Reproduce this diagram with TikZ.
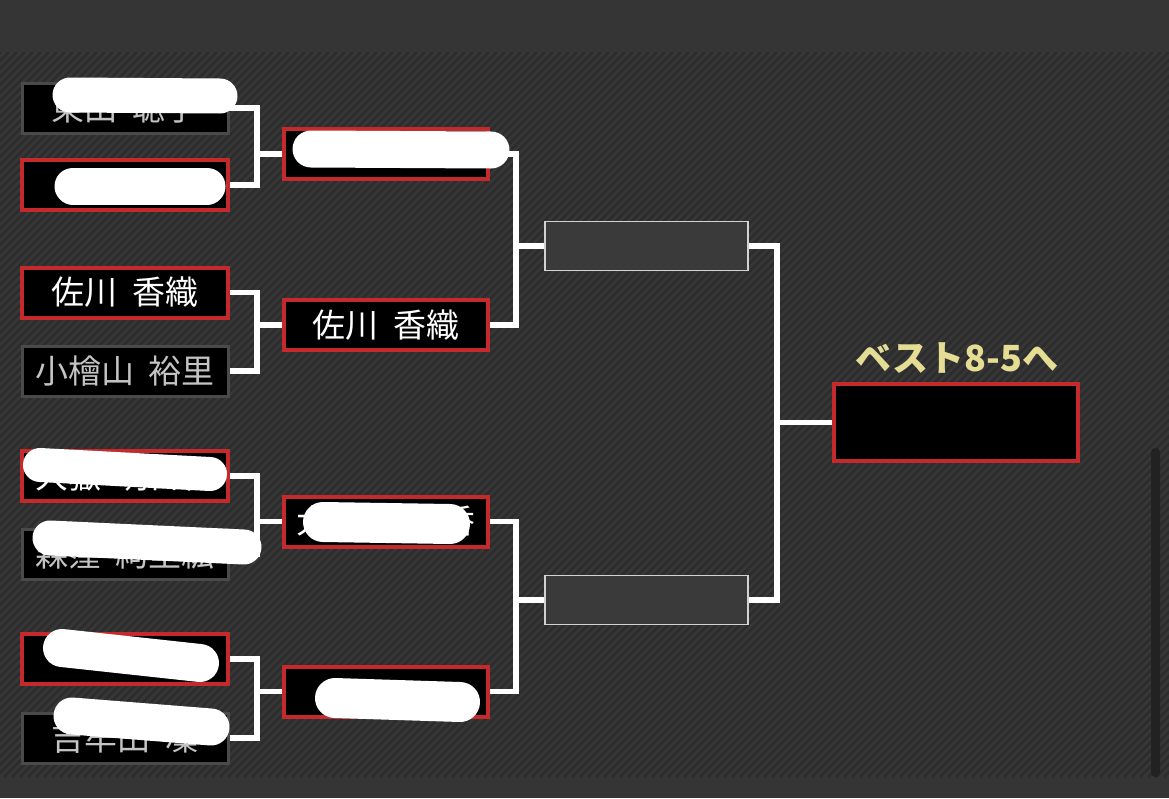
\documentclass[tikz,border=0pt]{standalone}
\usepackage{fontspec}
\newfontfamily\jpfont{Noto Sans CJK JP}
\definecolor{band}{HTML}{363536}
\definecolor{stripebase}{HTML}{373737}
\definecolor{stripedark}{HTML}{2C2C2C}
\definecolor{boxred}{HTML}{C4292B}
\definecolor{boxgray}{HTML}{4A4A4A}
\definecolor{txtgray}{HTML}{C4C4C4}
\definecolor{rfill}{HTML}{3A3A3A}
\definecolor{rline}{HTML}{D2D2D2}
\definecolor{lblcol}{HTML}{E6DD95}
\definecolor{scrollcol}{HTML}{222222}
\newcommand{\gap}{\hspace{0.45em}}
\pgfdeclarelayer{back}
\pgfdeclarelayer{mid}
\pgfdeclarelayer{front}
\pgfsetlayers{back,mid,main,front}
\begin{document}
\begin{tikzpicture}[x=1pt,y=-1pt,
  box/.style={fill=black, inner sep=0pt, minimum width=206pt, minimum height=50pt,
    font=\jpfont\fontsize{33}{33}\selectfont},
  win/.style={box, draw=boxred, line width=4pt, text=white},
  lose/.style={box, draw=boxgray, line width=3pt, text=txtgray},
  emptybox/.style={draw=rline, line width=1.8pt, fill=rfill, minimum width=203pt,
    minimum height=49pt, inner sep=0pt},
  finalbox/.style={draw=boxred, line width=4pt, fill=black, minimum width=244pt,
    minimum height=77pt, inner sep=0pt},
  conn/.style={draw=white, line width=5.5pt},
  blob/.style={draw=white, line cap=round},
  stripe/.style={draw=stripedark, line width=2.6pt},
]
\useasboundingbox (0,0) rectangle (1169,798);
\begin{pgfonlayer}{back}
  \fill[band] (0,0) rectangle (1169,798);
  \begin{scope}
    \clip (0,52) rectangle (1169,777);
    \fill[stripebase] (0,52) rectangle (1169,777);
    \foreach \i in {-740,-732,...,1180} {
      \draw[stripe] (\i,777) -- ++(725,-725);
    }
  \end{scope}
  \fill[scrollcol, rounded corners=4pt] (1151,448) rectangle (1160,777);
\end{pgfonlayer}

% round 1
\node[lose] (a) at (125,108) {東田\gap 聡子};
\node[win]  (b) at (125,185) {};
\node[win]  (c) at (125,292.5) {佐川\gap 香織};
\node[lose] (d) at (125,371) {小檜山\gap 裕里};
\node[win]  (e) at (125,476) {大嶽\gap 明日香};
\node[lose] (f) at (125,554) {森窪\gap 絢里紘};
\node[win]  (g) at (125,659) {};
\node[lose] (h) at (125,738) {吉牟田\gap 凜};
% round 2
\node[win, minimum width=204pt] (p) at (386,154) {};
\node[win, minimum width=204pt] (q) at (386,325) {佐川\gap 香織};
\node[win, minimum width=204pt] (r) at (386,521.5) {大嶽\gap 明日香};
\node[win, minimum width=204pt] (s) at (386,691.5) {};
% round 3
\node[emptybox] (t) at (646.5,246) {};
\node[emptybox] (u) at (646.5,600) {};
% final
\node[finalbox] (w) at (956,422.5) {};
\node[text=lblcol, font=\jpfont\bfseries\fontsize{36}{36}\selectfont, inner sep=0pt] (lbl) at (957,358) {ベスト8-5へ};

\coordinate (k1) at (257,0);
\coordinate (k2) at (516,0);
\coordinate (k3) at (777,0);

\begin{pgfonlayer}{mid}
  \draw[conn] (a.east) -| (k1 |- b.east) -- (b.east);
  \draw[conn] (p.west) -- (p.west -| k1);
  \draw[conn] (c.east) -| (k1 |- d.east) -- (d.east);
  \draw[conn] (q.west) -- (q.west -| k1);
  \draw[conn] (e.east) -| (k1 |- f.east) -- (f.east);
  \draw[conn] (r.west) -- (r.west -| k1);
  \draw[conn] (g.east) -| (k1 |- h.east) -- (h.east);
  \draw[conn] (s.west) -- (s.west -| k1);
  \draw[conn] (p.east) -| (k2 |- q.east) -- (q.east);
  \draw[conn] (t.west) -- (t.west -| k2);
  \draw[conn] (r.east) -| (k2 |- s.east) -- (s.east);
  \draw[conn] (u.west) -- (u.west -| k2);
  \draw[conn] (t.east) -| (k3 |- u.east) -- (u.east);
  \draw[conn] (w.west) -- (w.west -| k3);
\end{pgfonlayer}

\begin{pgfonlayer}{front}
  \draw[blob, line width=35pt] (70,95) -- (220,96);
  \draw[blob, line width=37pt] (73,186) -- (207,186);
  \draw[blob, line width=37pt] (311,149) -- (491,150);
  \draw[blob, line width=34pt] (40,465) -- (210,474);
  \draw[blob, line width=35pt] (50,538) -- (244,547);
  \draw[blob, line width=40pt] (323,522) -- (450,524);
  \draw[blob, line width=38pt] (62,648) -- (200,663);
  \draw[blob, line width=37pt] (72,716) -- (211,727);
  \draw[blob, line width=40pt] (335,698) -- (460,702);
\end{pgfonlayer}
\end{tikzpicture}
\end{document}
